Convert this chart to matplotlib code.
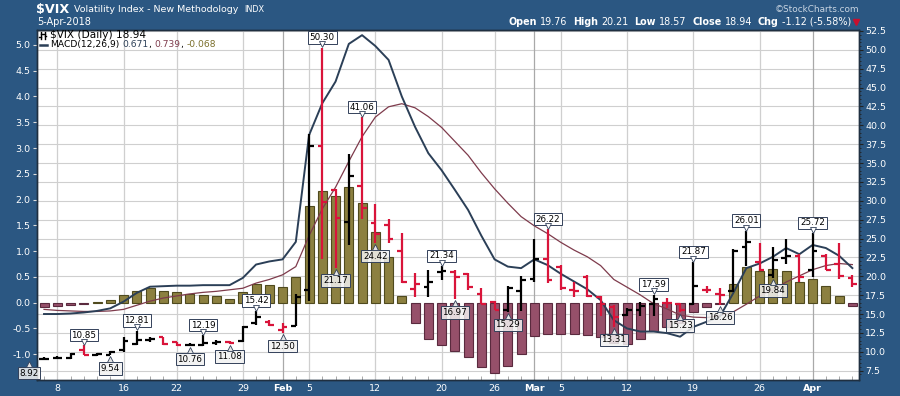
import numpy as np
import pandas as pd
import matplotlib
matplotlib.use('Agg')
import matplotlib.pyplot as plt
from matplotlib.lines import Line2D
from matplotlib.transforms import IdentityTransform, offset_copy

plt.rcParams['font.family'] = ['DejaVu Sans']

W, H = 900, 396
BG = '#2b5782'
GRID = '#cfcfcf'
MONTHGRID = '#a9a9a9'
UP = '#000000'
DOWN = '#d9143a'
MACD_C = '#2b3f57'
SIG_C = '#7e3b4c'
POS_C, POS_E = '#8c8040', '#4f4a1e'
NEG_C, NEG_E = '#96506a', '#5a2a3e'

dates = pd.bdate_range('2018-01-05', '2018-04-05').drop(
    pd.to_datetime(['2018-01-15', '2018-02-19', '2018-03-30']))

opens = [9.02, 9.15, 9.15, 10.25, 9.60, 9.60, 10.20, 11.00, 11.60, 11.90,
         11.25, 10.85, 10.90, 11.20, 11.25, 11.50, 13.80, 14.00, 12.90, 13.45,
         18.20, 37.20, 31.40, 27.20, 32.00, 27.00, 26.80, 23.30, 18.30, 18.60,
         20.55, 20.60, 20.30, 17.70, 16.60, 15.60, 18.10, 19.70, 22.30, 21.30,
         18.20, 19.95, 17.30, 16.00, 14.90, 15.50, 16.40, 16.50, 16.30, 16.30,
         18.20, 17.60, 18.00, 23.90, 21.90, 20.20, 22.40, 22.70, 20.90, 22.70,
         21.60, 19.76]
highs = [9.30, 9.45, 9.85, 10.85, 9.80, 10.05, 12.00, 12.81, 12.00, 12.00,
         11.35, 11.15, 12.19, 11.60, 11.40, 13.40, 15.42, 14.20, 13.80, 17.60,
         38.80, 50.30, 31.60, 36.20, 41.06, 29.60, 27.60, 25.70, 20.50, 20.80,
         21.34, 20.90, 20.45, 18.40, 16.80, 18.70, 20.00, 25.00, 26.22, 21.45,
         19.30, 20.20, 17.45, 16.20, 15.80, 16.60, 17.59, 17.10, 16.50, 21.87,
         18.70, 18.40, 23.60, 26.01, 24.40, 23.90, 24.90, 22.90, 25.72, 22.90,
         24.40, 20.21]
lows = [8.92, 9.05, 9.00, 9.55, 9.45, 9.54, 10.00, 10.90, 11.35, 10.95,
        10.80, 10.76, 10.80, 10.95, 11.08, 11.35, 13.60, 13.40, 12.50, 13.40,
        16.80, 22.30, 21.17, 24.20, 27.60, 24.42, 24.40, 19.10, 17.30, 17.20,
        19.50, 16.97, 18.20, 16.30, 15.50, 15.29, 15.40, 19.30, 19.10, 18.20,
        17.30, 17.20, 14.70, 13.31, 14.70, 14.70, 14.80, 15.80, 15.23, 16.20,
        17.80, 16.26, 17.90, 21.40, 20.75, 19.84, 21.70, 19.30, 19.90, 20.80,
        19.70, 18.57]
closes = [9.05, 9.25, 9.70, 9.62, 9.66, 9.95, 11.50, 11.60, 11.70, 11.05,
          10.85, 10.90, 11.15, 11.30, 11.12, 13.30, 14.60, 13.50, 13.25, 17.30,
          37.30, 29.90, 27.70, 33.30, 29.00, 25.60, 24.97, 19.26, 19.00, 19.30,
          20.65, 19.90, 18.60, 16.40, 15.60, 18.40, 19.50, 22.30, 19.50, 18.50,
          18.10, 17.40, 16.40, 14.65, 15.50, 16.10, 16.95, 16.45, 15.60, 18.70,
          18.20, 17.50, 23.40, 24.60, 20.90, 22.20, 22.70, 19.90, 23.35, 20.90,
          20.06, 18.94]

macd = [-0.22, -0.22, -0.21, -0.19, -0.16, -0.11, 0.02, 0.19, 0.31, 0.32,
        0.33, 0.33, 0.34, 0.34, 0.34, 0.48, 0.74, 0.80, 0.84, 1.18,
        3.25, 3.87, 4.29, 5.02, 5.19, 4.98, 4.71, 4.00, 3.41, 2.90,
        2.57, 2.19, 1.80, 1.30, 0.84, 0.70, 0.67, 0.84, 0.73, 0.56,
        0.41, 0.26, 0.05, -0.34, -0.50, -0.56, -0.56, -0.59, -0.66, -0.47,
        -0.37, -0.27, 0.18, 0.67, 0.76, 0.89, 1.06, 0.94, 1.12, 1.06,
        0.91, 0.671]
signal = [-0.13, -0.15, -0.16, -0.17, -0.17, -0.16, -0.13, -0.05, 0.03, 0.09,
          0.13, 0.17, 0.20, 0.22, 0.25, 0.28, 0.38, 0.45, 0.54, 0.70,
          1.30, 1.82, 2.24, 2.74, 3.22, 3.60, 3.80, 3.86, 3.78, 3.61,
          3.40, 3.13, 2.86, 2.52, 2.21, 1.93, 1.67, 1.49, 1.34, 1.17,
          1.02, 0.89, 0.72, 0.45, 0.30, 0.15, -0.02, -0.12, -0.24, -0.28,
          -0.29, -0.25, -0.18, -0.03, 0.13, 0.25, 0.40, 0.52, 0.64, 0.72,
          0.76, 0.739]
hist = [-0.09, -0.07, -0.04, -0.02, 0.01, 0.05, 0.15, 0.23, 0.28, 0.23,
        0.20, 0.16, 0.14, 0.12, 0.08, 0.21, 0.36, 0.35, 0.30, 0.49,
        1.88, 2.17, 2.07, 2.25, 1.93, 1.38, 0.88, 0.13, -0.40, -0.71,
        -0.82, -0.94, -1.06, -1.24, -1.37, -1.23, -1.00, -0.65, -0.61, -0.61,
        -0.61, -0.63, -0.67, -0.79, -0.80, -0.71, -0.54, -0.47, -0.40, -0.19,
        -0.08, -0.03, 0.36, 0.69, 0.62, 0.65, 0.61, 0.41, 0.45, 0.32,
        0.13, -0.068]

high_marks = [3, 7, 12, 16, 21, 24, 30, 38, 46, 49, 53, 58]
low_marks = [0, 5, 11, 14, 18, 22, 25, 31, 35, 43, 48, 51, 55]

x = np.arange(len(dates))
opens, highs, lows, closes = map(np.array, (opens, highs, lows, closes))
bar_col = [UP] + [UP if closes[k] >= closes[k - 1] else DOWN for k in range(1, len(x))]

fig = plt.figure(figsize=(W / 100, H / 100), dpi=100, facecolor=BG)
ax = fig.add_axes([37 / W, 1 - 380 / H, 822 / W, 350 / H])
ax2 = ax.twinx()

lyl = (-1.50, 5.29)
ryl = (6.27, 52.63)
ax.set_xlim(-0.53, 61.5)
ax.set_ylim(*lyl)
ax2.set_ylim(*ryl)

# horizontal grid follows the price axis, drawn behind the histogram
for r in np.arange(7.5, 52.6, 2.5):
    yl = lyl[0] + (r - ryl[0]) * (lyl[1] - lyl[0]) / (ryl[1] - ryl[0])
    ax.axhline(yl, color=GRID, lw=0.8, zorder=0)

# x ticks: month starts and first day of each week
ticks = []
for k in range(1, len(dates)):
    d, p = dates[k], dates[k - 1]
    if d.month != p.month:
        ticks.append((k, d.strftime('%b'), True))
    elif d.weekday() < p.weekday():
        ticks.append((k, str(d.day), False))
for k, lab, is_month in ticks:
    ax.axvline(k, color=MONTHGRID if is_month else GRID, lw=0.9, zorder=0)

# MACD histogram + lines
hc = [POS_C if h >= 0 else NEG_C for h in hist]
he = [POS_E if h >= 0 else NEG_E for h in hist]
ax.bar(x, hist, width=0.68, color=hc, edgecolor=he, linewidth=0.8, zorder=2)
ax.plot(x, signal, color=SIG_C, lw=0.9, zorder=3)
ax.plot(x, macd, color=MACD_C, lw=1.4, zorder=3)

# OHLC bars
tl = 0.36
ax2.vlines(x, lows, highs, colors=bar_col, lw=1.6, zorder=4)
ax2.hlines(opens, x - tl, x, colors=bar_col, lw=1.6, zorder=4)
ax2.hlines(closes, x, x + tl, colors=bar_col, lw=1.6, zorder=4)

# high / low value boxes
EDGE = '#33415a'
for k in high_marks:
    v = highs[k]
    ax2.annotate(f'{v:.2f}', xy=(k, v), xytext=(0, 7.4), textcoords='offset points',
                 ha='center', va='center', fontsize=6.3, color='black', zorder=6,
                 annotation_clip=False,
                 bbox=dict(boxstyle='square,pad=0.2', fc='white', ec=EDGE, lw=0.7))
    tr = offset_copy(ax2.transData, fig=fig, x=0, y=2.4, units='points')
    ax2.plot(k, v, marker='v', ms=4.5, mfc='white', mec=EDGE, mew=0.6,
             transform=tr, zorder=7, clip_on=False)
for k in low_marks:
    v = lows[k]
    dx = -10.8 if k == 0 else 0
    ax2.annotate(f'{v:.2f}', xy=(k, v), xytext=(dx, -9.4), textcoords='offset points',
                 ha='center', va='center', fontsize=6.3, color='black', zorder=6,
                 annotation_clip=False,
                 bbox=dict(boxstyle='square,pad=0.2', fc=(0.95, 0.95, 0.95, 0.85),
                           ec=EDGE, lw=0.7))
    tr = offset_copy(ax2.transData, fig=fig, x=dx, y=-3.0, units='points')
    ax2.plot(k, v, marker='^', ms=4.5, mfc='#e4e4e4', mec=EDGE, mew=0.6,
             transform=tr, zorder=7, clip_on=False)

# axes styling
ax.set_yticks(np.arange(-1.0, 5.01, 0.5))
ax.set_yticklabels([f'{t:.1f}' for t in np.arange(-1.0, 5.01, 0.5)])
ax2.set_yticks(np.arange(7.5, 52.6, 2.5))
ax2.set_yticklabels([f'{t:.1f}' for t in np.arange(7.5, 52.6, 2.5)])
ax2.set_yticks(np.arange(7.0, 52.6, 0.5), minor=True)
ax.set_xticks([t[0] for t in ticks])
ax.set_xticklabels([t[1] for t in ticks])
for lab, t in zip(ax.get_xticklabels(), ticks):
    if t[2]:
        lab.set_fontweight('bold')
ax.set_xticks(x, minor=True)

ax.tick_params(axis='y', colors='#dddddd', labelcolor='white', labelsize=6.8,
               length=3, width=0.8, pad=1.5)
ax2.tick_params(axis='y', which='major', colors='#222222', labelcolor='white',
                labelsize=6.8, length=3, width=0.8, pad=1.5)
ax2.tick_params(axis='y', which='minor', colors='#222222', length=1.5, width=0.6)
ax.tick_params(axis='x', which='major', length=0, labelcolor='white', labelsize=6.8, pad=3)
ax.tick_params(axis='x', which='minor', direction='in', length=3, color='#9a9a9a', width=0.6)
for a in (ax, ax2):
    for s in a.spines.values():
        s.set_color('#1f2f40')
        s.set_linewidth(1.0)

# header texts (pixel coordinates from the top-left)
rend = fig.canvas.get_renderer()
ID = IdentityTransform()


def row(pieces, x0, y0, right=False):
    texts, widths = [], []
    for s, kw, gap in pieces:
        t = fig.text(0, H - y0, s, transform=ID, va='center', ha='left', **kw)
        texts.append(t)
        widths.append(t.get_window_extent(renderer=rend).width + gap)
    xs = x0 - sum(widths) if right else x0
    for t, w in zip(texts, widths):
        t.set_x(xs)
        xs += w


row([('$VIX', dict(color='white', fontsize=9.2, fontweight='bold'), 5),
     ('Volatility Index - New Methodology', dict(color='white', fontsize=6.8), 6),
     ('INDX', dict(color='white', fontsize=5.9), 0)], 36, 9.5)
fig.text(37, H - 22, dates[-1].strftime('%-d-%b-%Y'), transform=ID, color='white',
         fontsize=7, va='center')
fig.text(859, H - 9, '\u00a9StockCharts.com', transform=ID, color='#c9d5e2',
         fontsize=6.4, va='center', ha='right')

chg = closes[-1] - closes[-2]
pct = chg / closes[-2] * 100
B = dict(color='white', fontsize=6.9, fontweight='bold')
N = dict(color='white', fontsize=6.9)
row([('Open', B, 3), (f'{opens[-1]:.2f}', N, 6), ('High', B, 3), (f'{highs[-1]:.2f}', N, 6),
     ('Low', B, 3), (f'{lows[-1]:.2f}', N, 6), ('Close', B, 3), (f'{closes[-1]:.2f}', N, 6),
     ('Chg', B, 3), (f'{chg:.2f} ({pct:.2f}%)', N, 0)], 851, 22, right=True)
fig.add_artist(Line2D([855.5], [H - 22], transform=ID, marker='v', ms=4.5,
                      color='#c8102e', mec='#c8102e', ls='none'))

# legend rows inside the plot
for xx, y1, y2, yo, yc in [(40.5, 32, 39, 37, 34), (44.5, 31.5, 38.5, 34, 36)]:
    fig.add_artist(Line2D([xx, xx], [H - y1, H - y2], transform=ID, color='black', lw=1))
    fig.add_artist(Line2D([xx - 1.8, xx], [H - yo, H - yo], transform=ID, color='black', lw=1))
    fig.add_artist(Line2D([xx, xx + 1.8], [H - yc, H - yc], transform=ID, color='black', lw=1))
fig.text(50, H - 35.5, f'$VIX (Daily) {closes[-1]:.2f}', transform=ID, color='black',
         fontsize=7.6, va='center')
fig.add_artist(Line2D([40, 47], [H - 44.5, H - 44.5], transform=ID, color=MACD_C, lw=1.8))
FS = 6.6
L = dict(color='black', fontsize=FS)
row([('MACD(12,26,9)', L, 3), (f'{macd[-1]:.3f}', dict(color=MACD_C, fontsize=FS), 0),
     (',', L, 3), (f'{signal[-1]:.3f}', dict(color=SIG_C, fontsize=FS), 0),
     (',', L, 3), (f'{hist[-1]:.3f}', dict(color='#7a6e2a', fontsize=FS), 0)], 50, 44.5)

fig.savefig('out.png', dpi=100, facecolor=BG)
